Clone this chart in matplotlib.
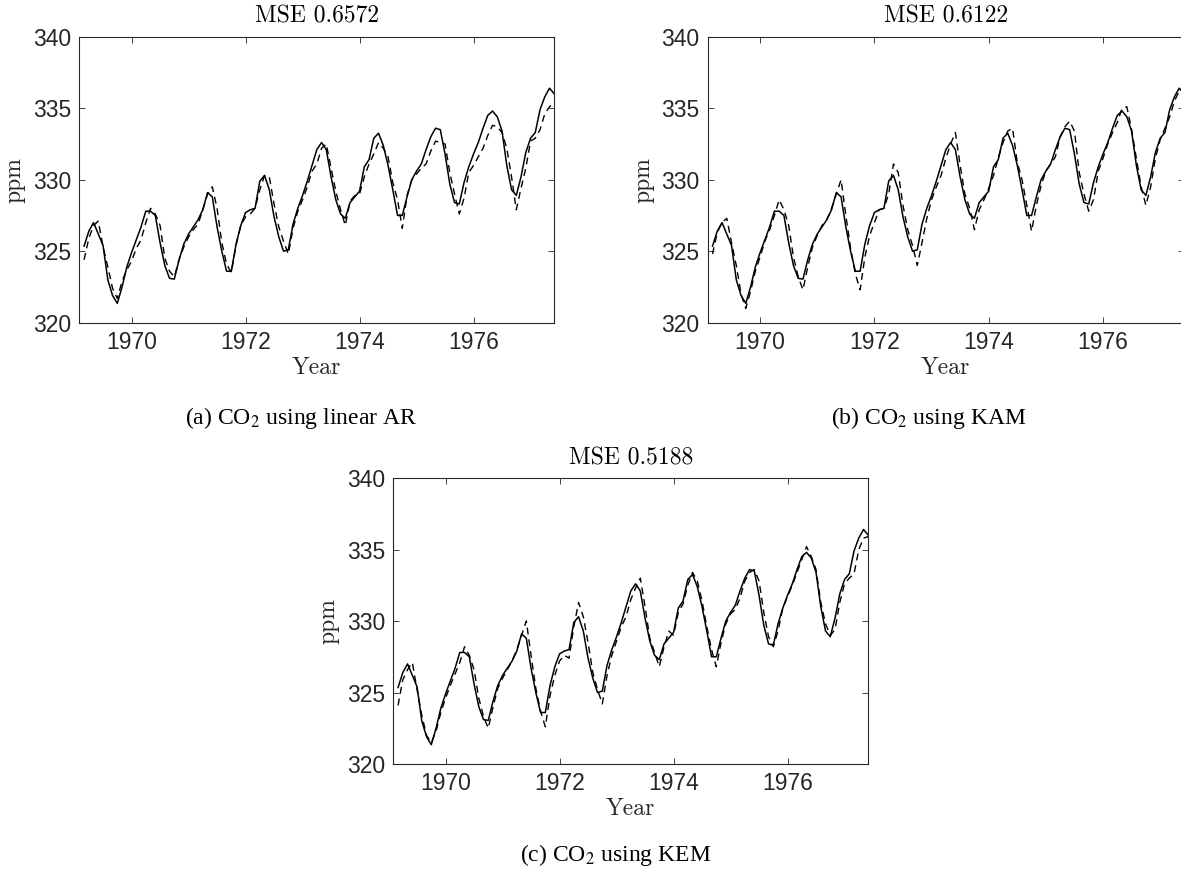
import numpy as np
import matplotlib

matplotlib.use('Agg')

import matplotlib.pyplot as plt

plt.rcParams['font.family'] = 'Liberation Sans'
plt.rcParams['mathtext.fontset'] = 'stix'

# Monthly CO2 at Mauna Loa, Mar 1969 - Jun 1977 (solid line, ppm)
co2 = [
    325.35, 326.4, 327.0, 326.2, 325.4, 323.0, 321.9, 321.35, 322.5, 323.9,
    324.9, 325.8, 326.7, 327.8, 327.8, 327.5, 325.6, 324.0, 323.1, 323.05, 324.4, 325.5,
    326.2, 326.7, 327.2, 327.9, 329.1, 328.8, 326.7, 325.0, 323.6, 323.6, 325.5, 326.8,
    327.7, 327.9, 328.0, 329.9, 330.3, 329.3, 327.4, 326.0, 325.0, 325.1, 326.9, 328.0,
    328.9, 329.9, 331.0, 332.1, 332.6, 332.1, 330.2, 328.6, 327.6, 327.3, 328.4, 328.8,
    329.2, 330.9, 331.4, 332.9, 333.25, 332.4, 331.0, 329.3, 327.5, 327.5, 328.8, 330.0,
    330.6, 331.1, 332.1, 333.0, 333.6, 333.5, 331.8, 329.7, 328.4, 328.3, 329.8, 330.9,
    331.8, 332.6, 333.6, 334.5, 334.8, 334.4, 333.4, 331.0, 329.3, 328.9, 330.2, 331.9,
    332.9, 333.3, 334.9, 335.8, 336.4, 336.0,
]

# One-step predictions (dashed lines)
pred_ar = [
    324.4, 325.9, 326.8, 327.1, 325.3, 323.9, 322.4, 321.7, 322.9, 323.7,
    324.3, 325.2, 325.8, 327.0, 328.0, 327.6, 326.8, 324.5, 323.6, 323.2, 324.4, 325.3,
    326.0, 326.5, 326.9, 327.9, 329.0, 329.5, 328.0, 325.6, 324.1, 323.5, 325.4, 326.8,
    327.4, 327.6, 328.0, 329.3, 330.3, 330.2, 328.3, 326.7, 325.7, 324.8, 326.6, 327.8,
    328.6, 329.5, 330.6, 331.1, 332.2, 332.5, 330.8, 329.2, 327.9, 326.8, 328.5, 328.9,
    329.0, 330.2, 331.1, 331.8, 332.6, 332.2, 331.6, 329.8, 328.6, 326.6, 328.9, 330.0,
    330.4, 330.8, 331.1, 332.0, 332.7, 332.6, 332.5, 330.5, 329.0, 327.6, 328.7, 330.5,
    331.0, 331.6, 332.2, 333.1, 333.8, 333.7, 333.3, 332.2, 330.2, 327.9, 329.4, 330.8,
    332.7, 332.9, 333.5, 334.6, 335.1, 335.4,
]

pred_kam = [
    324.8, 326.3, 327.0, 327.3, 325.6, 324.0, 322.0, 321.0, 322.2, 323.6,
    324.6, 325.7, 326.5, 327.5, 328.6, 327.9, 326.8, 324.6, 323.2, 322.3, 323.9, 325.3,
    326.1, 326.8, 327.2, 328.0, 329.0, 330.0, 327.5, 325.2, 323.4, 322.3, 324.6, 326.1,
    327.0, 327.9, 328.0, 329.0, 331.1, 330.5, 328.2, 326.5, 325.4, 324.0, 325.6, 327.3,
    328.6, 329.5, 330.3, 331.5, 332.5, 333.3, 331.0, 329.0, 328.0, 326.5, 327.9, 328.6,
    329.4, 330.3, 331.5, 332.6, 333.4, 333.6, 331.2, 330.0, 328.2, 326.4, 328.2, 329.6,
    330.6, 331.1, 331.6, 333.0, 333.7, 334.1, 333.4, 330.5, 329.0, 327.8, 328.6, 330.6,
    331.5, 332.5, 333.3, 334.0, 335.0, 335.1, 333.5, 331.5, 329.5, 328.2, 329.5, 331.5,
    332.8, 333.6, 334.4, 335.5, 336.2, 336.4,
]

pred_kem = [
    324.1, 325.9, 326.6, 327.1, 325.2, 323.4, 322.0, 321.5, 322.3, 323.6,
    324.6, 325.5, 326.3, 327.1, 328.2, 327.6, 326.6, 324.6, 323.3, 322.5, 324.0, 325.3,
    326.0, 326.6, 327.2, 328.0, 329.0, 330.0, 327.6, 325.3, 323.7, 322.6, 324.8, 326.2,
    327.2, 327.6, 327.4, 329.6, 331.3, 330.3, 328.5, 326.4, 325.2, 324.2, 326.2, 327.6,
    328.6, 329.6, 330.3, 331.5, 332.3, 333.0, 331.0, 328.8, 327.8, 326.8, 328.2, 329.3,
    329.0, 330.6, 331.2, 332.5, 333.4, 332.8, 331.4, 329.6, 328.0, 326.8, 328.5, 329.8,
    330.5, 330.8, 331.6, 332.8, 333.4, 333.6, 332.8, 330.6, 328.9, 328.2, 329.3, 330.9,
    331.7, 332.5, 333.4, 334.3, 335.2, 334.5, 333.6, 331.3, 329.8, 329.0, 329.4, 331.3,
    332.6, 333.0, 333.3, 335.0, 335.8, 335.9,
]

titles = ['MSE 0.6572', 'MSE 0.6122', 'MSE 0.5188']
captions = [r'(a) CO$_2$ using linear AR', r'(b) CO$_2$ using KAM', r'(c) CO$_2$ using KEM']
year_ticks = [1970, 1972, 1974, 1976]
ppm_ticks = [320, 325, 330, 335, 340]

# Time axis: one point per month starting March 1969
months = 1969 + (2 + np.arange(len(co2))) / 12.0

W, H = 1181, 871
GREY = '#262626'


def draw_panel(fig, box, pred, title):
    """Draw one MATLAB-looking panel; box is (left, top, right, bottom) in pixels."""
    left, top, right, bottom = box
    ax = fig.add_axes([left / W, 1 - bottom / H, (right - left) / W, (bottom - top) / H])

    ax.plot(months, co2, color='k', linewidth=1.1)
    ax.plot(months, pred, color='k', linewidth=1.0, linestyle=(0, (5, 3.5)))

    ax.set_xlim(1969.083, 1977.417)
    ax.set_ylim(320, 340)
    ax.set_xticks(year_ticks)
    ax.set_yticks(ppm_ticks)
    ax.tick_params(direction='in', top=True, right=True, length=4, width=0.6,
                   colors=GREY, labelsize=16.5, pad=6)
    for s in ax.spines.values():
        s.set_color(GREY)
        s.set_linewidth(0.8)

    ax.set_title(title, family='cmr10', fontsize=17, pad=10, color='k')
    ax.set_xlabel('Year', family='cmr10', fontsize=17, color=GREY, labelpad=2)
    ax.set_ylabel('ppm', family='cmr10', fontsize=17, color=GREY, labelpad=5)
    return ax


fig = plt.figure(figsize=(W / 100, H / 100), dpi=100)

# panel (b) runs past the right edge of the page, as in the original
boxes = [(79.3, 36.7, 554.3, 322.7),
         (707.7, 36.7, 1184.0, 322.7),
         (393.3, 478, 868.3, 764)]
preds = [pred_ar, pred_kam, pred_kem]

for box, pred, title in zip(boxes, preds, titles):
    draw_panel(fig, box, pred, title)

# Sub-figure captions
caption_pos = [(301, 418), (929, 418), (616, 855)]
for (cx, cy), cap in zip(caption_pos, captions):
    fig.text(cx / W, 1 - cy / H, cap, family='Liberation Serif', fontsize=17,
             ha='center', va='center')

fig.savefig('out.png', dpi=100)
plt.close('all')
